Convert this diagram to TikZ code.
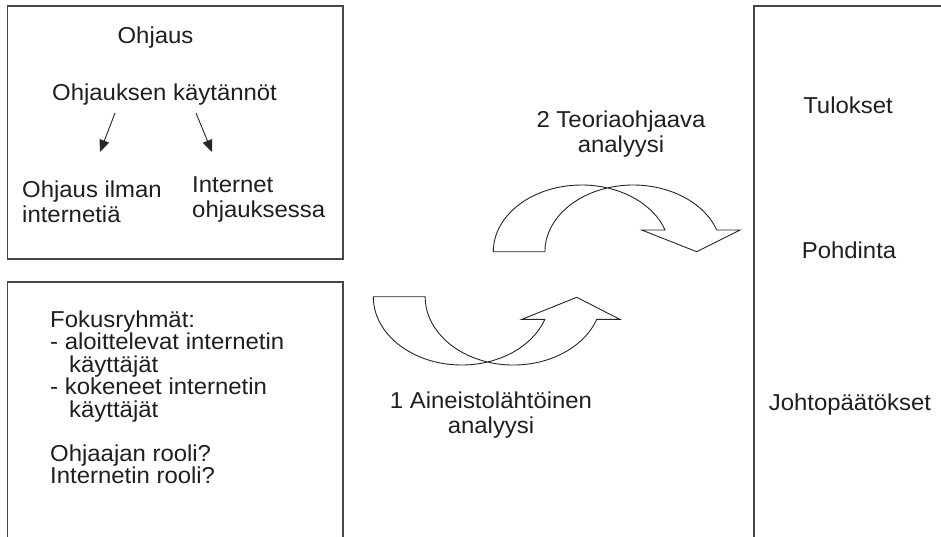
\documentclass[tikz,border=0pt]{standalone}
\usepackage{fontspec}
\setmainfont{Liberation Sans}[FakeStretch=1.04]
\usetikzlibrary{arrows.meta}

\begin{document}
\begin{tikzpicture}[x=1pt,y=-1pt,
  panel/.style={draw=black!72,line width=1.3pt},
  lbl/.style={inner sep=0pt,font=\fontsize{23}{22}\selectfont,text=black!88},
  bandarrow/.style={draw=black!85,line width=0.9pt,line join=miter},
  subarrow/.style={-{Triangle[length=12pt,width=10pt]},line width=0.9pt,draw=black!85}]

% page frame
\useasboundingbox (0,0) rectangle (941,536);
\fill[white] (0,0) rectangle (941,536);
\clip (0,0) rectangle (941,536);

% panels
\draw[panel] (7.5,6) rectangle (343,259);
\draw[panel] (7.5,282) rectangle (343,560);
\draw[panel] (754,6) rectangle (960,560);

% upper left panel
\node[lbl,anchor=base] (ohj) at (155.5,43) {Ohjaus};
\node[lbl,anchor=base west] (kay) at (52,100) {Ohjauksen käytännöt};
\node[lbl,anchor=base west] (il1) at (22,197) {Ohjaus ilman};
\node[lbl,anchor=base west] (il2) at (22,222) {internetiä};
\node[lbl,anchor=base west] (in1) at (192,192) {Internet};
\node[lbl,anchor=base west] (in2) at (192,217) {ohjauksessa};
\coordinate (a1s) at (115,113);
\coordinate (a1e) at (100,152);
\coordinate (a2s) at (196,113);
\coordinate (a2e) at (212,152);
\draw[subarrow] (a1s) -- (a1e);
\draw[subarrow] (a2s) -- (a2e);

% lower left panel
\node[lbl,anchor=base west] (f1) at (50,327) {Fokusryhmät:};
\node[lbl,anchor=base west] (f2) at (50,349.5) {- aloittelevat internetin};
\node[lbl,anchor=base west] (f3) at (69,372) {käyttäjät};
\node[lbl,anchor=base west] (f4) at (50,394.5) {- kokeneet internetin};
\node[lbl,anchor=base west] (f5) at (69,417) {käyttäjät};
\node[lbl,anchor=base west] (r1) at (50,461.5) {Ohjaajan rooli?};
\node[lbl,anchor=base west] (r2) at (50,483.5) {Internetin rooli?};

% right panel
\node[lbl,anchor=base] (tul) at (848,113) {Tulokset};
\node[lbl,anchor=base] (poh) at (849,258) {Pohdinta};
\node[lbl,anchor=base] (joh) at (850,410) {Johtopäätökset};

% analysis labels
\node[lbl,anchor=base] (t1) at (621,127) {2 Teoriaohjaava};
\node[lbl,anchor=base] (t2) at (621,152) {analyysi};
\node[lbl,anchor=base] (d1) at (491,408) {1 Aineistolähtöinen};
\node[lbl,anchor=base] (d2) at (491,433) {analyysi};

% curved up arrow (data-driven analysis)
\coordinate (lt1) at (373.3,296.7);
\coordinate (lbl1) at (521.7,319.4);
\coordinate (ltip) at (576.7,297.3);
\coordinate (lbr) at (620,319.4);
\coordinate (lnr) at (596.7,319.4);
\draw[bandarrow] (lt1) arc[start angle=180,end angle=19.4,x radius=88.3,y radius=68.3]
  -- (lbl1) -- (ltip) -- (lbr) -- (lnr)
  arc[start angle=19.4,end angle=180,x radius=88.3,y radius=68.3] -- cycle;

% curved down arrow (theory-driven analysis)
\coordinate (ut1) at (493.3,251.7);
\coordinate (ubl) at (641.7,230);
\coordinate (utip) at (696.7,251.7);
\coordinate (ubr) at (740,230);
\coordinate (unr) at (716.7,230);
\draw[bandarrow] (ut1) arc[start angle=180,end angle=341,x radius=88.3,y radius=66.7]
  -- (ubl) -- (utip) -- (ubr) -- (unr)
  arc[start angle=341,end angle=180,x radius=88.3,y radius=66.7] -- cycle;
\end{tikzpicture}
\end{document}
